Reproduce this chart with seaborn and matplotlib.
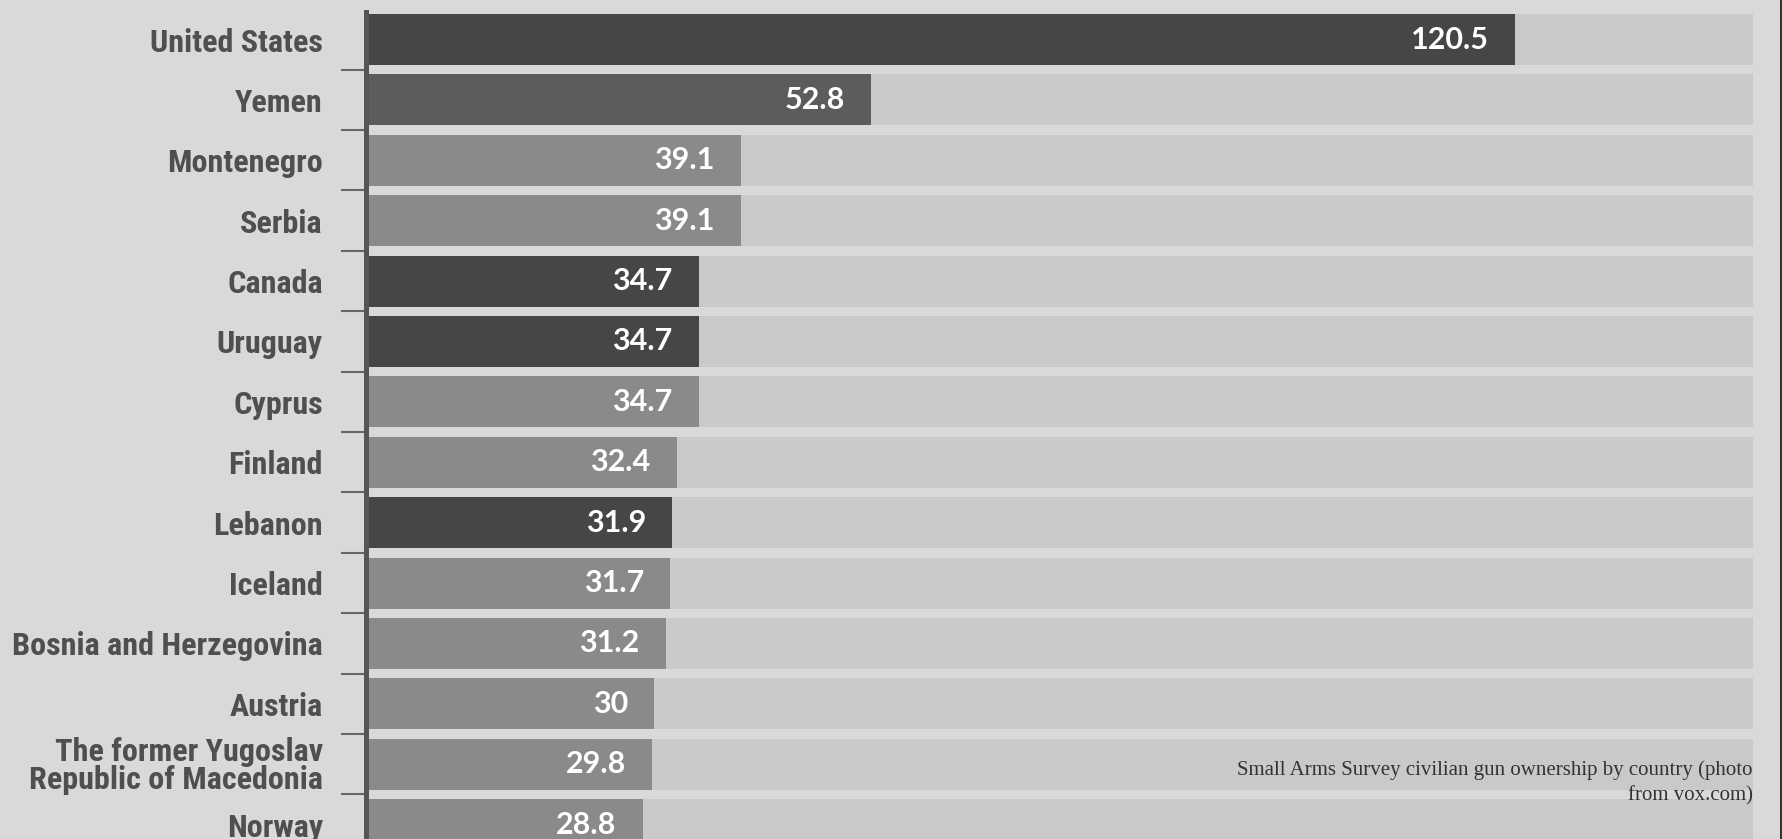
import matplotlib
matplotlib.use("Agg")
import matplotlib.pyplot as plt
import seaborn as sns
import pandas as pd
from matplotlib.patches import Rectangle
from matplotlib import font_manager as fm
from matplotlib.font_manager import FontProperties

countries = ["United States", "Yemen", "Montenegro", "Serbia", "Canada", "Uruguay",
             "Cyprus", "Finland", "Lebanon", "Iceland", "Bosnia and Herzegovina",
             "Austria", "The former Yugoslav\nRepublic of Macedonia", "Norway"]
values = [120.5, 52.8, 39.1, 39.1, 34.7, 34.7, 34.7, 32.4, 31.9, 31.7, 31.2, 30, 29.8, 28.8]
value_labels = ["120.5", "52.8", "39.1", "39.1", "34.7", "34.7", "34.7", "32.4", "31.9",
                "31.7", "31.2", "30", "29.8", "28.8"]
track_max = 145.5

DARK, MID, LIGHT = "#464646", "#5c5c5c", "#8a8a8a"
bar_colors = [DARK, MID, LIGHT, LIGHT, DARK, DARK, LIGHT, LIGHT, DARK, LIGHT, LIGHT, LIGHT, LIGHT, LIGHT]

sns.set_theme(style="white")
plt.rcParams['font.family'] = ['DejaVu Sans']

W, H = 1783, 839
fig = plt.figure(figsize=(W / 100, H / 100), dpi=100)
fig.patch.set_facecolor("#d9d9d9")

# --- pick a condensed bold face for the country labels ---
entries = fm.fontManager.ttflist
names = {f.name for f in entries}
if "Liberation Sans Narrow" in names:
    label_fp = FontProperties(family="Liberation Sans Narrow", weight="bold")
elif "Roboto Condensed" in names:
    label_fp = FontProperties(family="Roboto Condensed", weight="bold")
elif any(f.name == "DejaVu Sans" and "condensed" in str(f.stretch) for f in entries):
    label_fp = FontProperties(family="DejaVu Sans", weight="bold", stretch="condensed")
else:
    label_fp = FontProperties(family="Roboto", weight="bold")

renderer = fig.canvas.get_renderer()
probe_fp = label_fp.copy()
probe_fp.set_size(24)
t = fig.text(0, 0, "Bosnia and Herzegovina", fontproperties=probe_fp)
w24 = t.get_window_extent(renderer).width
t.remove()
label_size = min(24.5, 24 * 312 / w24)
label_fp.set_size(label_size)

ax_left = 366 / W
ax = fig.add_axes([ax_left, 0, 1 - ax_left, 1])
ax.set_facecolor("none")

df = pd.DataFrame({"country": countries, "value": values, "track": [track_max] * len(countries)})

sns.barplot(data=df, y="country", x="track", color="#c9c9c9", width=0.845,
            orient="h", ax=ax, saturation=1)
sns.barplot(data=df, y="country", x="value", hue="country", palette=bar_colors,
            width=0.845, orient="h", ax=ax, legend=False, saturation=1)

for p in ax.patches:
    p.set_linewidth(0)

ax.set_xlim(-0.315, (W - 369) / 9.51)
ax.set_ylim(13.237, -0.654)
ax.set_xlabel("")
ax.set_ylabel("")
ax.set_xticks([])

for s in ["top", "right", "bottom"]:
    ax.spines[s].set_visible(False)
ax.spines["left"].set_color("#555555")
ax.spines["left"].set_linewidth(3.6)
ax.spines["left"].set_bounds(-0.455, 13.237)

ax.set_yticks(range(len(countries)))
ax.set_yticklabels(countries, fontproperties=label_fp, color="#4f4f4f", linespacing=0.9)
ax.tick_params(axis="y", which="major", length=0, pad=31)
ax.set_yticks([i + 0.5 for i in range(len(countries) - 1)], minor=True)
ax.tick_params(axis="y", which="minor", length=18, width=1.5, color="#666666", left=True)

for i, (v, lab) in enumerate(zip(values, value_labels)):
    ax.annotate(lab, xy=(v, i), xytext=(-19, 0), textcoords="offset points",
                ha="right", va="center", fontsize=22, fontweight="bold", color="white",
                family=['Lato', 'Open Sans', 'DejaVu Sans'])

fig.text(1753 / W, 1 - 783 / H,
         "Small Arms Survey civilian gun ownership by country (photo\nfrom vox.com)",
         ha="right", va="center", fontsize=15, color="#333333",
         family=['Liberation Serif', 'DejaVu Serif'], multialignment="right", linespacing=1.45)

fig.patches.append(Rectangle((1 - 3 / W, 0), 3 / W, 1, transform=fig.transFigure,
                             facecolor="#333333", edgecolor="none", zorder=5))

fig.savefig("out.png", dpi=100, facecolor=fig.get_facecolor())
